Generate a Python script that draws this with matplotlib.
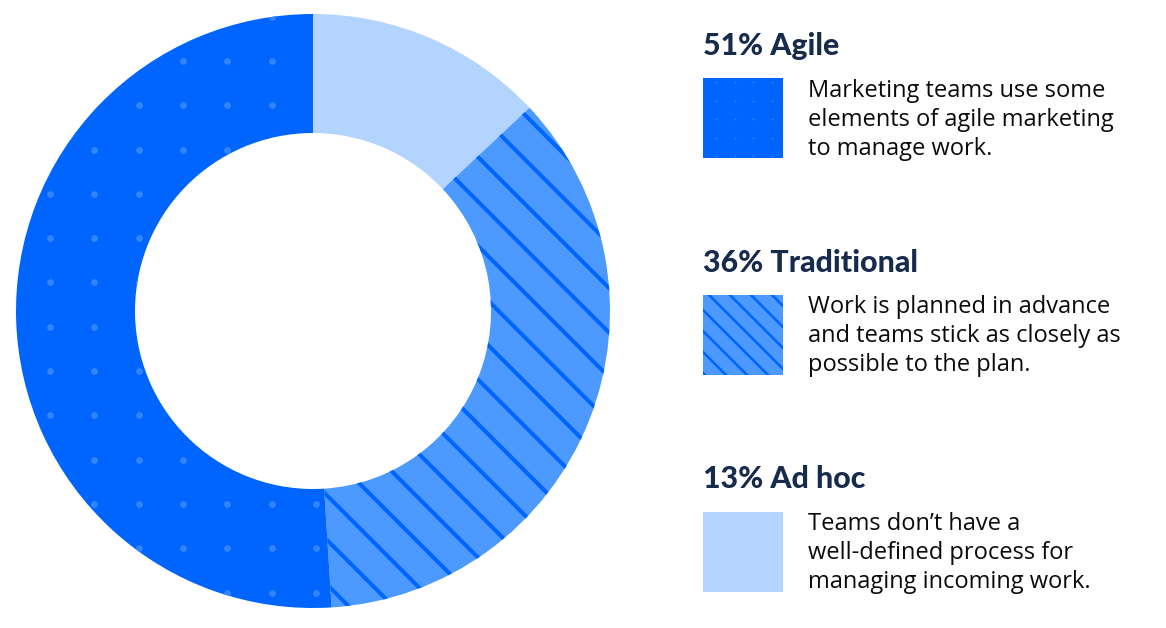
import numpy as np
import matplotlib
matplotlib.use("Agg")
import matplotlib.pyplot as plt
from matplotlib.patches import Rectangle

# ---- data ----
labels = ["Ad hoc", "Traditional", "Agile"]
values = [13, 36, 51]
titles = ["51% Agile", "36% Traditional", "13% Ad hoc"]
descriptions = [
    "Marketing teams use some\nelements of agile marketing\nto manage work.",
    "Work is planned in advance\nand teams stick as closely as\npossible to the plan.",
    "Teams don\u2019t have a\nwell-defined process for\nmanaging incoming work.",
]

# ---- style ----
C_AGILE = "#0065FF"
C_TRAD = "#4C9AFF"
C_ADHOC = "#B3D4FF"
C_DOT = "#3384FF"
C_TITLE = "#172B4D"
W, H = 1166, 628

fig = plt.figure(figsize=(W / 100, H / 100), dpi=100)
ax = fig.add_axes([0, 0, 1, 1])

cx, cy = 313, H - 311
R_out, R_in = 297, 178

wedges, _ = ax.pie(values, colors=[C_ADHOC, C_TRAD, C_AGILE], startangle=90,
                   counterclock=False, radius=R_out, center=(cx, cy),
                   wedgeprops=dict(width=R_out - R_in, linewidth=0), frame=True)
ax.set_xlim(0, W)
ax.set_ylim(0, H)
ax.set_aspect("equal")
ax.axis("off")

w_adhoc, w_trad, w_agile = wedges

# dots on agile wedge
dx = 44.3
xs = np.arange(50 - dx * 0, 620, dx)
ys_img = np.arange(61 - dx, 640, dx)
gx, gy = np.meshgrid(xs, ys_img)
dots = ax.scatter(gx.ravel(), H - gy.ravel(), s=(3.4 * 0.72 * 2) ** 2,
                  color=C_DOT, linewidths=0, zorder=3)
dots.set_clip_path(w_agile)

# hatch lines on traditional wedge (image coords: x - y = c)
for c in np.arange(410, -400, -44.5):
    x0, x1 = -50, 700
    ln, = ax.plot([x0, x1], [H - (x0 - c), H - (x1 - c)], color=C_AGILE,
                  lw=4.0 * 0.72, solid_capstyle="butt", zorder=3)
    ln.set_clip_path(w_trad)

# ---- legend ----
box_x, box_w = 703, 80
box_tops = [78, 295, 512]
title_base = [55, 272, 488]
desc_base = [97, 313, 530]
fills = [C_AGILE, C_TRAD, C_ADHOC]

title_font = dict(family="Lato", weight="black", size=21.8, color=C_TITLE)
body_font = dict(family="Open Sans", size=17.0, color="#0B0B0B")

for i in range(3):
    top = box_tops[i]
    rect = Rectangle((box_x, H - top - box_w), box_w, box_w, facecolor=fills[i],
                     edgecolor="none", zorder=2)
    ax.add_patch(rect)
    if i == 0:
        bxs = np.arange(box_x + 13, box_x + box_w, 18.5)
        bys = np.arange(top + 4, top + box_w, 18.5)
        bgx, bgy = np.meshgrid(bxs, bys)
        d = ax.scatter(bgx.ravel(), H - bgy.ravel(), s=(1.0 * 0.72 * 2) ** 2,
                       color=C_DOT, linewidths=0, zorder=3)
        d.set_clip_path(rect)
    elif i == 1:
        for c in np.arange(box_x - top + 90, box_x - top - 100, -21):
            y0, y1 = top - 10, top + box_w + 10
            ln, = ax.plot([c + y0, c + y1], [H - y0, H - y1], color=C_AGILE,
                          lw=2.6 * 0.72, solid_capstyle="butt", zorder=3)
            ln.set_clip_path(rect)
    ax.text(box_x, H - title_base[i], titles[i], ha="left", va="baseline",
            **title_font)
    for j, line in enumerate(descriptions[i].split("\n")):
        ax.text(808, H - (desc_base[i] + 29 * j), line, ha="left", va="baseline",
                **body_font)

fig.savefig("out.png", dpi=100, facecolor="white")
